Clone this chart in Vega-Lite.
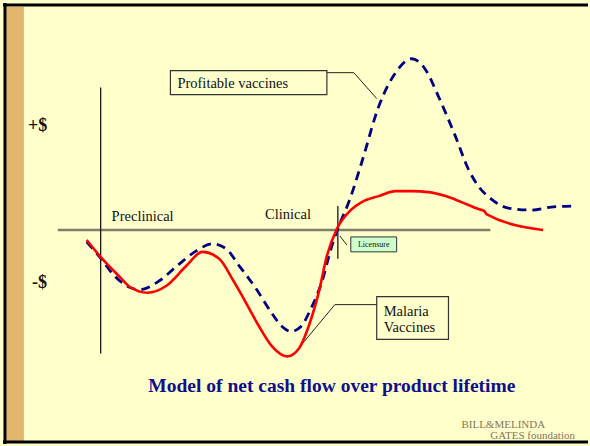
{
  "$schema": "https://vega.github.io/schema/vega-lite/v6.json",
  "autosize": {"type": "fit", "contains": "padding"},
  "width": 590,
  "height": 446,
  "padding": 0,
  "background": "#FFFFCC",
  "config": {"view": {"stroke": null}},
  "datasets": {
    "strip": [{"t": 6, "t2": 24, "v": 224, "v2": -212}],
    "borders": [
      {"t": 3, "t2": 590, "v": 226, "v2": 226},
      {"t": 5, "t2": 5, "v": 228, "v2": -215},
      {"t": 3, "t2": 590, "v": -213, "v2": -213}
    ],
    "baseline": [{"t": 58, "t2": 492, "v": 0, "v2": 0}],
    "verticals": [
      {"t": 101, "t2": 101, "v": 143, "v2": -124},
      {"t": 339, "t2": 339, "v": 24, "v2": -29}
    ],
    "boxes": [
      {"t": 171, "t2": 328, "v": 160, "v2": 136},
      {"t": 378, "t2": 450, "v": -67, "v2": -110}
    ],
    "licbox": [{"t": 352, "t2": 398, "v": -7, "v2": -22}],
    "leaders": [
      {"id": "p", "o": 1, "t": 328, "v": 158},
      {"id": "p", "o": 2, "t": 355, "v": 158},
      {"id": "p", "o": 3, "t": 378, "v": 132},
      {"id": "m", "o": 1, "t": 378, "v": -75},
      {"id": "m", "o": 2, "t": 336, "v": -75},
      {"id": "m", "o": 3, "t": 297, "v": -122},
      {"id": "l", "o": 1, "t": 341, "v": -6},
      {"id": "l", "o": 2, "t": 348, "v": -15}
    ],
    "red": [
      {"t": 87, "v": -10}, {"t": 100, "v": -26}, {"t": 120, "v": -47}, {"t": 130, "v": -57},
      {"t": 148, "v": -63}, {"t": 167, "v": -56}, {"t": 187, "v": -36}, {"t": 203, "v": -22},
      {"t": 220, "v": -29}, {"t": 233, "v": -49}, {"t": 240, "v": -61}, {"t": 250, "v": -79},
      {"t": 260, "v": -97}, {"t": 273, "v": -117}, {"t": 288, "v": -127}, {"t": 300, "v": -119},
      {"t": 310, "v": -96}, {"t": 320, "v": -62}, {"t": 328, "v": -26}, {"t": 338, "v": 1},
      {"t": 350, "v": 18}, {"t": 363, "v": 28}, {"t": 380, "v": 34}, {"t": 397, "v": 39},
      {"t": 413, "v": 39}, {"t": 430, "v": 38}, {"t": 447, "v": 34}, {"t": 463, "v": 28},
      {"t": 480, "v": 21}, {"t": 486, "v": 19}, {"t": 488, "v": 16}, {"t": 545, "v": 0}
    ],
    "blue": [
      {"t": 87, "v": -12}, {"t": 100, "v": -27}, {"t": 113, "v": -44}, {"t": 127, "v": -56},
      {"t": 140, "v": -60}, {"t": 160, "v": -51}, {"t": 180, "v": -34}, {"t": 197, "v": -21},
      {"t": 213, "v": -14}, {"t": 227, "v": -19}, {"t": 240, "v": -36}, {"t": 257, "v": -59},
      {"t": 273, "v": -84}, {"t": 283, "v": -97}, {"t": 292, "v": -102}, {"t": 302, "v": -97},
      {"t": 312, "v": -79}, {"t": 323, "v": -52}, {"t": 333, "v": -16}, {"t": 340, "v": 4},
      {"t": 350, "v": 28}, {"t": 363, "v": 68}, {"t": 380, "v": 124}, {"t": 397, "v": 158},
      {"t": 413, "v": 172}, {"t": 427, "v": 161}, {"t": 440, "v": 134}, {"t": 457, "v": 94},
      {"t": 470, "v": 61}, {"t": 480, "v": 44}, {"t": 493, "v": 31}, {"t": 510, "v": 22},
      {"t": 533, "v": 20}, {"t": 553, "v": 23}, {"t": 575, "v": 24}
    ],
    "labels": [
      {"t": 112, "v": 9, "txt": "Preclinical"},
      {"t": 266, "v": 11, "txt": "Clinical"},
      {"t": 178, "v": 143, "txt": "Profitable vaccines"},
      {"t": 385, "v": -86, "txt": "Malaria"},
      {"t": 385, "v": -102, "txt": "Vaccines"}
    ],
    "signs": [
      {"t": 28, "v": 99, "txt": "+$"},
      {"t": 32, "v": -58, "txt": "-$"}
    ],
    "title": [{"t": 333, "v": -163, "txt": "Model of net cash flow over product lifetime"}],
    "lic": [{"t": 375, "v": -15, "txt": "Licensure"}],
    "logo": [
      {"t": 463, "v": -199, "txt": "BILL&MELINDA"},
      {"t": 492, "v": -210, "txt": "GATES foundation"}
    ]
  },
  "layer": [
    {
      "data": {"name": "strip"},
      "mark": {"type": "rect", "color": "#E3B66E"},
      "encoding": {
        "x": {"field": "t", "type": "quantitative", "scale": {"domain": [0, 590], "nice": false, "zero": false}, "axis": null},
        "x2": {"field": "t2"},
        "y": {"field": "v", "type": "quantitative", "scale": {"domain": [-215, 231], "nice": false, "zero": false}, "axis": null},
        "y2": {"field": "v2"}
      }
    },
    {
      "data": {"name": "borders"},
      "mark": {"type": "rule", "color": "#000000", "strokeWidth": 3},
      "encoding": {
        "x": {"field": "t", "type": "quantitative", "scale": {"domain": [0, 590], "nice": false, "zero": false}, "axis": null},
        "x2": {"field": "t2"},
        "y": {"field": "v", "type": "quantitative", "scale": {"domain": [-215, 231], "nice": false, "zero": false}, "axis": null},
        "y2": {"field": "v2"}
      }
    },
    {
      "data": {"name": "baseline"},
      "mark": {"type": "rule", "color": "#7F7F6A", "strokeWidth": 2.5},
      "encoding": {
        "x": {"field": "t", "type": "quantitative", "scale": {"domain": [0, 590], "nice": false, "zero": false}, "axis": null},
        "x2": {"field": "t2"},
        "y": {"field": "v", "type": "quantitative", "scale": {"domain": [-215, 231], "nice": false, "zero": false}, "axis": null},
        "y2": {"field": "v2"}
      }
    },
    {
      "data": {"name": "verticals"},
      "mark": {"type": "rule", "color": "#1a1a1a", "strokeWidth": 1.3},
      "encoding": {
        "x": {"field": "t", "type": "quantitative", "scale": {"domain": [0, 590], "nice": false, "zero": false}, "axis": null},
        "x2": {"field": "t2"},
        "y": {"field": "v", "type": "quantitative", "scale": {"domain": [-215, 231], "nice": false, "zero": false}, "axis": null},
        "y2": {"field": "v2"}
      }
    },
    {
      "data": {"name": "boxes"},
      "mark": {"type": "rect", "fill": "#FFFFCC", "stroke": "#333333", "strokeWidth": 1.2},
      "encoding": {
        "x": {"field": "t", "type": "quantitative", "scale": {"domain": [0, 590], "nice": false, "zero": false}, "axis": null},
        "x2": {"field": "t2"},
        "y": {"field": "v", "type": "quantitative", "scale": {"domain": [-215, 231], "nice": false, "zero": false}, "axis": null},
        "y2": {"field": "v2"}
      }
    },
    {
      "data": {"name": "licbox"},
      "mark": {"type": "rect", "fill": "#CCFFCC", "stroke": "#333333", "strokeWidth": 1},
      "encoding": {
        "x": {"field": "t", "type": "quantitative", "scale": {"domain": [0, 590], "nice": false, "zero": false}, "axis": null},
        "x2": {"field": "t2"},
        "y": {"field": "v", "type": "quantitative", "scale": {"domain": [-215, 231], "nice": false, "zero": false}, "axis": null},
        "y2": {"field": "v2"}
      }
    },
    {
      "data": {"name": "leaders"},
      "mark": {"type": "line", "color": "#222222", "strokeWidth": 1},
      "encoding": {
        "x": {"field": "t", "type": "quantitative", "scale": {"domain": [0, 590], "nice": false, "zero": false}, "axis": null},
        "y": {"field": "v", "type": "quantitative", "scale": {"domain": [-215, 231], "nice": false, "zero": false}, "axis": null},
        "detail": {"field": "id"},
        "order": {"field": "o"}
      }
    },
    {
      "data": {"name": "blue"},
      "mark": {"type": "line", "color": "#000080", "strokeWidth": 2.8, "strokeDash": [9, 6], "interpolate": "monotone"},
      "encoding": {
        "x": {"field": "t", "type": "quantitative", "scale": {"domain": [0, 590], "nice": false, "zero": false}, "axis": null},
        "y": {"field": "v", "type": "quantitative", "scale": {"domain": [-215, 231], "nice": false, "zero": false}, "axis": null}
      }
    },
    {
      "data": {"name": "red"},
      "mark": {"type": "line", "color": "#FF0000", "strokeWidth": 2.6, "interpolate": "monotone"},
      "encoding": {
        "x": {"field": "t", "type": "quantitative", "scale": {"domain": [0, 590], "nice": false, "zero": false}, "axis": null},
        "y": {"field": "v", "type": "quantitative", "scale": {"domain": [-215, 231], "nice": false, "zero": false}, "axis": null}
      }
    },
    {
      "data": {"name": "labels"},
      "mark": {"type": "text", "font": "Liberation Serif", "fontSize": 14.5, "color": "#111111", "align": "left", "baseline": "alphabetic"},
      "encoding": {
        "x": {"field": "t", "type": "quantitative", "scale": {"domain": [0, 590], "nice": false, "zero": false}, "axis": null},
        "y": {"field": "v", "type": "quantitative", "scale": {"domain": [-215, 231], "nice": false, "zero": false}, "axis": null},
        "text": {"field": "txt"}
      }
    },
    {
      "data": {"name": "signs"},
      "mark": {"type": "text", "font": "Liberation Serif", "fontSize": 18, "fontWeight": "bold", "color": "#111111", "align": "left", "baseline": "alphabetic"},
      "encoding": {
        "x": {"field": "t", "type": "quantitative", "scale": {"domain": [0, 590], "nice": false, "zero": false}, "axis": null},
        "y": {"field": "v", "type": "quantitative", "scale": {"domain": [-215, 231], "nice": false, "zero": false}, "axis": null},
        "text": {"field": "txt"}
      }
    },
    {
      "data": {"name": "title"},
      "mark": {"type": "text", "font": "Liberation Serif", "fontSize": 19.5, "fontWeight": "bold", "color": "#0F0F8C", "align": "center", "baseline": "alphabetic"},
      "encoding": {
        "x": {"field": "t", "type": "quantitative", "scale": {"domain": [0, 590], "nice": false, "zero": false}, "axis": null},
        "y": {"field": "v", "type": "quantitative", "scale": {"domain": [-215, 231], "nice": false, "zero": false}, "axis": null},
        "text": {"field": "txt"}
      }
    },
    {
      "data": {"name": "lic"},
      "mark": {"type": "text", "font": "Liberation Serif", "fontSize": 8, "color": "#111111", "align": "center", "baseline": "middle"},
      "encoding": {
        "x": {"field": "t", "type": "quantitative", "scale": {"domain": [0, 590], "nice": false, "zero": false}, "axis": null},
        "y": {"field": "v", "type": "quantitative", "scale": {"domain": [-215, 231], "nice": false, "zero": false}, "axis": null},
        "text": {"field": "txt"}
      }
    },
    {
      "data": {"name": "logo"},
      "mark": {"type": "text", "font": "Liberation Serif", "fontSize": 11, "color": "#857556", "align": "left", "baseline": "alphabetic"},
      "encoding": {
        "x": {"field": "t", "type": "quantitative", "scale": {"domain": [0, 590], "nice": false, "zero": false}, "axis": null},
        "y": {"field": "v", "type": "quantitative", "scale": {"domain": [-215, 231], "nice": false, "zero": false}, "axis": null},
        "text": {"field": "txt"}
      }
    }
  ]
}
